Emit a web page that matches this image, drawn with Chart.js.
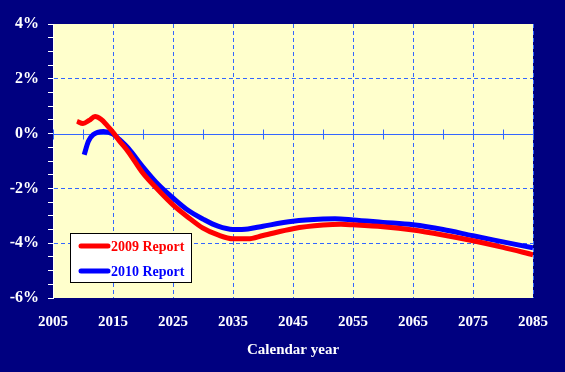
<!DOCTYPE html>
<html>
<head>
<meta charset="utf-8">
<script src="https://cdn.jsdelivr.net/npm/chart.js@4/dist/chart.umd.min.js"></script>
<style>
  html, body { margin: 0; padding: 0; background: #000080; }
  canvas { display: block; }
</style>
</head>
<body>
<canvas id="chart" width="565" height="372"></canvas>
<script>
// series (percent)
const seriesNames = ['2009 Report', '2010 Report'];
const seriesColors = ['#ff0000', '#0000ff'];

const years2009 = [2009, 2010, 2011, 2012, 2013, 2014, 2015, 2016, 2017.5, 2020, 2022.5, 2025, 2027.5, 2030, 2032.5, 2035, 2037.5, 2040, 2045, 2050, 2053, 2055, 2060, 2065, 2070, 2075, 2080, 2085];
const values2009 = [0.45, 0.37, 0.48, 0.62, 0.52, 0.3, 0.05, -0.25, -0.65, -1.45, -2.05, -2.6, -3.05, -3.45, -3.7, -3.84, -3.84, -3.72, -3.47, -3.34, -3.31, -3.33, -3.4, -3.52, -3.7, -3.91, -4.15, -4.42];

const years2010 = [2010.2, 2010.9, 2011.7, 2013.4, 2015, 2016, 2017.5, 2020, 2022.5, 2025, 2027.5, 2030, 2032.5, 2035, 2037.5, 2040, 2045, 2050, 2052, 2055, 2060, 2065, 2070, 2075, 2080, 2085];
const values2010 = [-0.77, -0.28, -0.04, 0.08, -0.02, -0.2, -0.52, -1.22, -1.85, -2.35, -2.8, -3.12, -3.38, -3.5, -3.48, -3.38, -3.2, -3.12, -3.11, -3.15, -3.24, -3.33, -3.5, -3.73, -3.95, -4.17];

const yLabelValues = [-6, -4, -2, 0, 2, 4];
const yGridValues = [-4, -2, 2];
const xMin = 2005, xMax = 2085;
const xAxisTitle = 'Calendar year';

const gridBlue = '#3366ff';
const serif = '"Liberation Serif", "Times New Roman", serif';

function pairs(xs, ys) {
  return xs.map((x, i) => ({ x: x, y: ys[i] }));
}

// backgrounds, the solid 0% line with its small ticks, and the boxed legend
const decor = {
  id: 'decor',
  beforeDraw(chart) {
    const { ctx, chartArea: a } = chart;
    ctx.save();
    ctx.fillStyle = '#000080';
    ctx.fillRect(0, 0, chart.width, chart.height);
    ctx.fillStyle = '#ffffcc';
    ctx.fillRect(a.left, a.top, a.right - a.left, a.bottom - a.top);
    ctx.restore();
  },
  beforeDatasetsDraw(chart) {
    const { ctx, chartArea: a, scales } = chart;
    const y0 = Math.round(scales.y.getPixelForValue(0)) + 0.5;
    ctx.save();
    ctx.strokeStyle = gridBlue;
    ctx.lineWidth = 1;
    ctx.beginPath();
    ctx.moveTo(a.left, y0);
    ctx.lineTo(a.right, y0);
    for (let yr = xMin; yr <= xMax; yr += 5) {
      const x = Math.round(scales.x.getPixelForValue(yr)) + 0.5;
      ctx.moveTo(x, y0 - 5);
      ctx.lineTo(x, y0 + 5);
    }
    ctx.stroke();
    ctx.restore();
  },
  afterDatasetsDraw(chart) {
    const { ctx } = chart;
    const bx = 70.5, by = 233.5, bw = 121, bh = 49;
    ctx.save();
    ctx.fillStyle = '#ffffff';
    ctx.fillRect(bx, by, bw, bh);
    ctx.strokeStyle = '#000000';
    ctx.lineWidth = 1;
    ctx.strokeRect(bx, by, bw, bh);
    ctx.font = 'bold 14px ' + serif;
    ctx.textBaseline = 'middle';
    chart.data.datasets.forEach((ds, i) => {
      const ly = 246 + i * 25;
      ctx.strokeStyle = ds.borderColor;
      ctx.lineWidth = 5;
      ctx.lineCap = 'round';
      ctx.beginPath();
      ctx.moveTo(81, ly);
      ctx.lineTo(108, ly);
      ctx.stroke();
      ctx.fillStyle = ds.borderColor;
      ctx.fillText(ds.label, 111, ly + 1);
    });
    ctx.restore();
  }
};

new Chart(document.getElementById('chart'), {
  type: 'line',
  data: {
    datasets: [
      { label: seriesNames[0], data: pairs(years2009, values2009), borderColor: seriesColors[0] },
      { label: seriesNames[1], data: pairs(years2010, values2010), borderColor: seriesColors[1] }
    ]
  },
  options: {
    responsive: false,
    animation: false,
    layout: { padding: { top: 24, right: 32, left: 0, bottom: 0 } },
    elements: {
      line: { borderWidth: 5, cubicInterpolationMode: 'monotone', fill: false, borderCapStyle: 'butt' },
      point: { radius: 0 }
    },
    plugins: {
      legend: { display: false },
      tooltip: { enabled: false }
    },
    scales: {
      x: {
        type: 'linear',
        min: xMin,
        max: xMax,
        afterFit(s) { s.height = 74; },
        ticks: {
          stepSize: 10,
          color: '#ffffff',
          padding: 15,
          maxRotation: 0,
          font: { family: serif, size: 15, weight: 'bold' },
          callback: v => String(v)
        },
        grid: {
          drawTicks: false,
          color: c => (c.tick && c.tick.value > xMin) ? gridBlue : 'rgba(0,0,0,0)'
        },
        border: { display: false, dash: [4, 3] },
        title: {
          display: true,
          text: xAxisTitle,
          color: '#ffffff',
          font: { family: serif, size: 15, weight: 'bold' },
          padding: { top: 0, bottom: 13 }
        }
      },
      y: {
        min: -6,
        max: 4,
        afterFit(s) { s.width = 53; },
        afterBuildTicks(s) {
          const t = [];
          for (let v = -6; v <= 4; v += 0.5) t.push({ value: v });
          s.ticks = t;
        },
        ticks: {
          autoSkip: false,
          color: '#ffffff',
          padding: 9,
          font: { family: serif, size: 16, weight: 'bold' },
          callback: v => yLabelValues.includes(v) ? v + '%' : ''
        },
        grid: {
          tickLength: 5,
          tickColor: '#ffffff',
          color: c => (c.tick && yGridValues.includes(c.tick.value)) ? gridBlue : 'rgba(0,0,0,0)'
        },
        border: { display: true, color: '#ffffff', width: 1, dash: [4, 3] }
      }
    }
  },
  plugins: [decor]
});
</script>
</body>
</html>
